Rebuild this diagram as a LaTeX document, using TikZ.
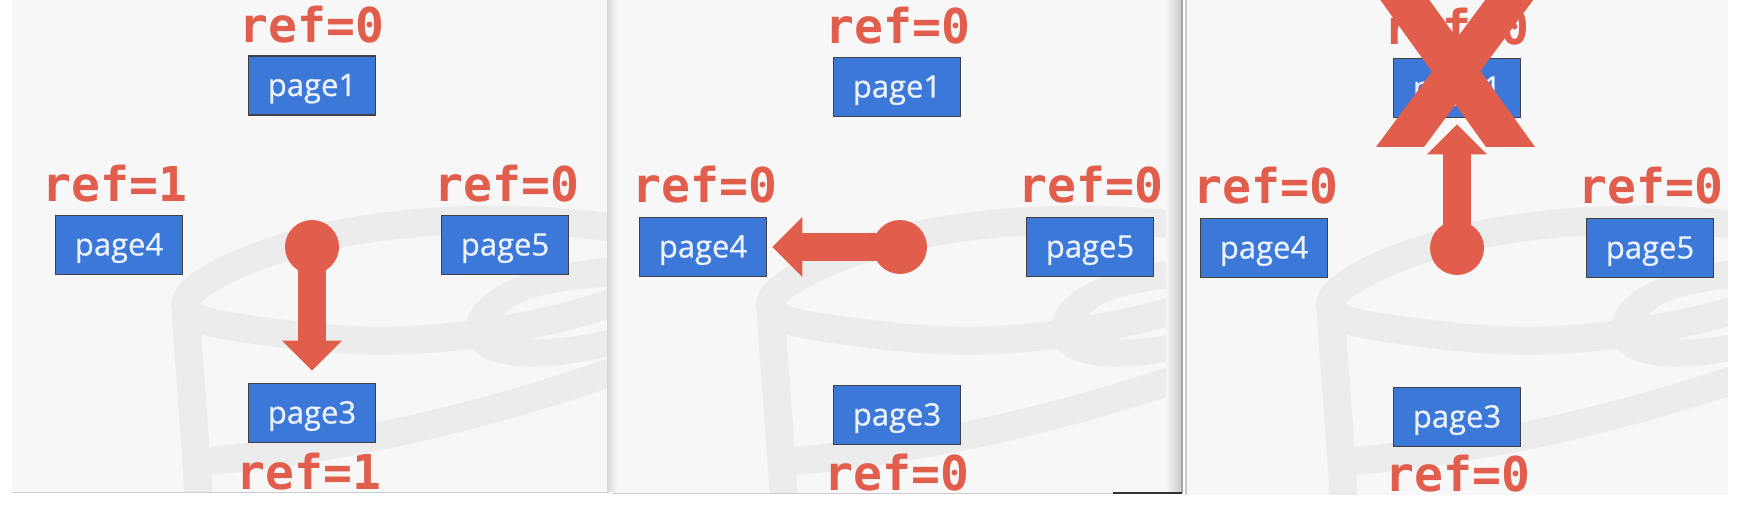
\documentclass[tikz,border=0pt]{standalone}
\usepackage{fontspec}
\newfontfamily\refmono{DejaVu Sans Mono}
\newfontfamily\pagesans{Open Sans}[FakeBold=0.6]
\usetikzlibrary{arrows.meta}
\definecolor{redc}{RGB}{226,94,76}
\definecolor{bluec}{RGB}{60,120,216}
\definecolor{bordc}{RGB}{64,64,64}
\definecolor{bgc}{RGB}{247,247,247}
\definecolor{wmc}{RGB}{236,236,236}
\definecolor{txtc}{RGB}{236,242,255}
\tikzset{
  pagebox/.style={rectangle, fill=bluec, draw=bordc, line width=0.8pt,
    minimum width=63.5pt, minimum height=29.5pt, inner sep=0pt,
    text height=10.5pt, text depth=0pt, text=txtc,
    font=\pagesans\fontsize{15.5}{17}\selectfont},
  reflabel/.style={anchor=base, inner sep=0pt, text=redc,
    font=\refmono\bfseries\fontsize{24}{26}\selectfont},
  dot/.style={circle, fill=redc, minimum size=27pt, inner sep=0pt},
  refarrow/.style={draw=redc, line width=14pt,
    -{Triangle[width=30pt,length=15pt,line width=0pt]}},
  wmark/.style={draw=wmc, line width=14pt, line cap=round},
  wfill/.style={fill=wmc, draw=none},
  panelbg/.style={fill=bgc, draw=none}
}
\newcommand\tubmark{%
  \draw[wmark] plot[smooth cycle, tension=0.7] coordinates {(185,305) (270,252) (430,222) (600,226) (680,250) (620,300) (440,338) (270,332)};
  \draw[wmark] (186,318) .. controls (192,400) and (196,450) .. (200,520);
  \draw[wmark] (196,462) .. controls (330,452) and (480,420) .. (640,362);
  \fill[wfill] (640,255) .. controls (510,262) and (455,300) .. (468,340)
     .. controls (480,376) and (560,372) .. (640,348) -- (640,322)
     .. controls (575,340) and (508,348) .. (502,326)
     .. controls (496,300) and (560,286) .. (640,286) -- cycle;
}
\begin{document}
\begin{tikzpicture}[x=0.5pt, y=-0.5pt]
\useasboundingbox (0,0) rectangle (1742,512);
\fill[white] (0,0) rectangle (1742,512);
% panels
\fill[panelbg] (12,0) rectangle (609,492);
\fill[panelbg] (612,0) rectangle (1182,493);
\fill[panelbg] (1186,0) rectangle (1728,495);
% watermarks
\begin{scope}
  \clip (12,0) rectangle (607,492);
  \tubmark
\end{scope}
\begin{scope}
  \clip (612,0) rectangle (1182,493);
  \begin{scope}[shift={(585,0)}]\tubmark\end{scope}
\end{scope}
\begin{scope}
  \clip (1186,0) rectangle (1728,495);
  \begin{scope}[shift={(1145,0)}]\tubmark\end{scope}
\end{scope}
% panel edges
\shade[left color=black!16, right color=bgc] (607,0) rectangle (617,492);
\shade[left color=bgc, right color=black!22] (1166,0) rectangle (1182,493);
\draw[black!35, line width=0.6pt] (1182,0) -- (1182,493);
\draw[black!20, line width=0.6pt] (1186,0) -- (1186,495);
\draw[black!20, line width=0.6pt] (12,492.5) -- (609,492.5);
\draw[black!20, line width=0.6pt] (612,493.5) -- (1113,493.5);
\draw[black!80, line width=1pt] (1113,493.5) -- (1182,493.5);

% ---------- panel 1 ----------
\node[pagebox] (p11) at (312,85.5) {page1};
\node[pagebox] (p14) at (119,245) {page4};
\node[pagebox] (p15) at (505,245) {page5};
\node[pagebox] (p13) at (312,413) {page3};
\node[reflabel] (r11) at (312,43) {ref=0};
\node[reflabel] (r14) at (115,202) {ref=1};
\node[reflabel] (r15) at (507,202) {ref=0};
\node[reflabel] (r13) at (309,490) {ref=1};
\node[dot] (d1) at (312,247) {};
\draw[refarrow, shorten >=6pt] (d1.center) -- (p13.north);

% ---------- panel 2 ----------
\node[pagebox] (p21) at (897,87) {page1};
\node[pagebox] (p24) at (703,247) {page4};
\node[pagebox] (p25) at (1090,247) {page5};
\node[pagebox] (p23) at (897,415) {page3};
\node[reflabel] (r21) at (898,44) {ref=0};
\node[reflabel] (r24) at (705,203) {ref=0};
\node[reflabel] (r25) at (1091,203) {ref=0};
\node[reflabel] (r23) at (897,491) {ref=0};
\node[dot] (d2) at (900,247) {};
\draw[refarrow, shorten >=2.5pt] (d2.center) -- (p24.east);

% ---------- panel 3 ----------
\node[pagebox] (p31) at (1457,88) {page1};
\node[pagebox] (p34) at (1264,248) {page4};
\node[pagebox] (p35) at (1650,248) {page5};
\node[pagebox] (p33) at (1457,417) {page3};
\node[reflabel] (r31) at (1457,45) {ref=0};
\node[reflabel] (r34) at (1266,204) {ref=0};
\node[reflabel] (r35) at (1651,204) {ref=0};
\node[reflabel] (r33) at (1458,492) {ref=0};
\node[dot] (d3) at (1457,248) {};
\draw[refarrow, shorten >=3pt] (d3.center) -- (p31.south);
% big cross
\begin{scope}
  \clip (1186,0) rectangle (1728,495);
  \fill[redc] (1366,-20) -- (1415,-20) -- (1535,147) -- (1486,147) -- cycle;
  \fill[redc] (1500,-20) -- (1548,-20) -- (1424,147) -- (1376,147) -- cycle;
\end{scope}
\end{tikzpicture}
\end{document}
